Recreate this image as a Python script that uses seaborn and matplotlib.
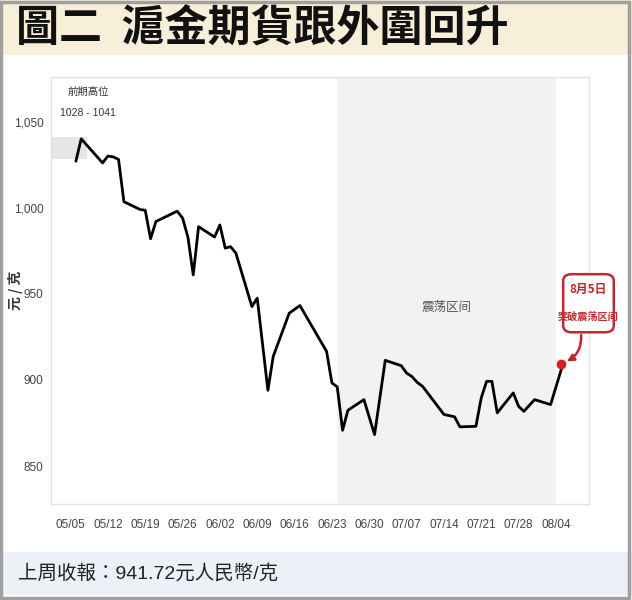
from matplotlib import pyplot as plt
import matplotlib.dates as mdates
from matplotlib.patches import FancyBboxPatch
import pandas as pd
import seaborn as sns

# data
dates = ['2025-05-06', '2025-05-07', '2025-05-11', '2025-05-12', '2025-05-13', '2025-05-14',
         '2025-05-15', '2025-05-18', '2025-05-19', '2025-05-20', '2025-05-21', '2025-05-25',
         '2025-05-26', '2025-05-27', '2025-05-28', '2025-05-29', '2025-06-01', '2025-06-02',
         '2025-06-03', '2025-06-04', '2025-06-05', '2025-06-08', '2025-06-09', '2025-06-11',
         '2025-06-12', '2025-06-15', '2025-06-17', '2025-06-22', '2025-06-23', '2025-06-24',
         '2025-06-25', '2025-06-26', '2025-06-29', '2025-07-01', '2025-07-03', '2025-07-06',
         '2025-07-07', '2025-07-08', '2025-07-09', '2025-07-10', '2025-07-14', '2025-07-16',
         '2025-07-17', '2025-07-20', '2025-07-21', '2025-07-22', '2025-07-23', '2025-07-24',
         '2025-07-27', '2025-07-28', '2025-07-29', '2025-07-31', '2025-08-03', '2025-08-05']
prices = [1027, 1040, 1026, 1030, 1029.5, 1028,
          1003.5, 999, 998.5, 982, 992, 998,
          994, 983, 961, 989, 983, 990,
          976.5, 977.4, 973.6, 942.6, 947.5, 894,
          913.7, 938.8, 943.2, 916.6, 898.3, 896,
          870.8, 882.4, 888.6, 868.3, 911.4, 908.3,
          904, 902, 898.6, 896.3, 880, 878.6,
          872.8, 873.1, 889.6, 899.2, 899.2, 880.9,
          892.5, 884.7, 881.8, 888.6, 885.7, 906]
tick_dates = ['2025-05-05', '2025-05-12', '2025-05-19', '2025-05-26', '2025-06-02', '2025-06-09',
              '2025-06-16', '2025-06-23', '2025-06-30', '2025-07-07', '2025-07-14', '2025-07-21',
              '2025-07-28', '2025-08-04']
y_ticks = [850, 900, 950, 1000, 1050]
range_start, range_end = '2025-06-24', '2025-08-04'
prev_high = [1028, 1041]
last_close = 941.72

df = pd.DataFrame({'date': pd.to_datetime(dates), 'price': prices})

sns.set_style('white')
plt.rcParams['font.family'] = ['Liberation Sans', 'Noto Sans CJK TC', 'DejaVu Sans']
cjk = ['Noto Sans CJK TC', 'DejaVu Sans']

fig = plt.figure(figsize=(6.32, 6), dpi=100)
fig.patch.set_facecolor('white')

# header band and footer band
fig.patches.append(plt.Rectangle((0, 0.908), 1, 0.092, transform=fig.transFigure,
                                 facecolor='#f8efd8', edgecolor='none', zorder=0))
fig.patches.append(plt.Rectangle((0, 0.008), 1, 0.072, transform=fig.transFigure,
                                 facecolor='#ebf1f7', edgecolor='none', zorder=0))
fig.patches.append(plt.Rectangle((0.002, 0.003), 0.994, 0.994, transform=fig.transFigure,
                                 facecolor='none', edgecolor='#a0a0a0', linewidth=2.5, zorder=5))
fig.text(0.026, 0.953, '圖二  滬金期貨跟外圍回升', fontsize=31, fontweight='heavy',
         family=cjk, va='center', ha='left', color='#111111')
fig.text(0.028, 0.044, f'上周收報：{last_close}元人民幣/克', fontsize=14,
         family=['Liberation Sans', 'Noto Sans CJK TC'], va='center', ha='left', color='#222222')

ax = fig.add_axes([0.080, 0.160, 0.852, 0.712])

x0, x1 = pd.Timestamp('2025-05-01 06:00'), pd.Timestamp('2025-08-10 05:00')
ax.axvspan(pd.Timestamp(range_start), pd.Timestamp(range_end), color='#f2f2f2', zorder=0, lw=0)
ax.fill_between([x0, pd.Timestamp('2025-05-08')], prev_high[0], prev_high[1],
                color='#e6e6e6', lw=0, zorder=0)

sns.lineplot(data=df, x='date', y='price', ax=ax, color='black', linewidth=2.0, zorder=3)
ax.plot(df['date'].iloc[-1], 909, 'o', color='#d42020', markersize=6, zorder=4, clip_on=False)

ax.set_xlim(x0, x1)
ax.set_ylim(828, 1076)
ax.set_yticks(y_ticks)
ax.set_yticklabels([f'{v:,}' for v in y_ticks])
ax.set_xticks(pd.to_datetime(tick_dates))
ax.xaxis.set_major_formatter(mdates.DateFormatter('%m/%d'))
ax.tick_params(axis='both', length=3, color='#bbbbbb', labelsize=8.5, labelcolor='#444444')
ax.tick_params(axis='x', pad=8)
ax.tick_params(axis='y', pad=2)
ax.set_xlabel('')
ax.set_ylabel('元 / 克', family=cjk, fontsize=10, fontweight='bold', color='#333333')
ax.yaxis.set_label_coords(-0.052, 0.50)
for s in ax.spines.values():
    s.set_color('#e2e2e2')
    s.set_linewidth(1)

ax.text(pd.Timestamp('2025-05-08 06:00'), 1067, '前期高位', ha='center', va='center',
        fontsize=7.5, color='#333333', family=cjk)
ax.text(pd.Timestamp('2025-05-08 06:00'), 1055, '1028 - 1041', ha='center', va='center',
        fontsize=7.5, color='#333333')
ax.text(pd.Timestamp('2025-07-14 12:00'), 942, '震荡区间', ha='center', va='center',
        fontsize=9, color='#555555', family=cjk)

# callout for the 8/5 break-out
box = FancyBboxPatch((0.955, 0.405), 0.088, 0.13, boxstyle='round,pad=0.003,rounding_size=0.016',
                     transform=ax.transAxes, facecolor='white', edgecolor='#c0282d', linewidth=1.8,
                     zorder=5, clip_on=False)
ax.add_patch(box)
ax.text(0.999, 0.502, '8月5日', transform=ax.transAxes, ha='center', va='center', fontsize=8.5,
        fontweight='bold', color='#c0282d', family=cjk, zorder=6)
ax.text(0.999, 0.438, '突破震荡区间', transform=ax.transAxes, ha='center', va='center', fontsize=7.3,
        fontweight='bold', color='#c0282d', family=cjk, zorder=6)
ax.annotate('', xy=(df['date'].iloc[-1] + pd.Timedelta(hours=14), 910), xytext=(0.985, 0.402),
            textcoords='axes fraction',
            arrowprops=dict(arrowstyle='-|>', color='#c0282d', lw=1.8,
                            connectionstyle='arc3,rad=-0.35', mutation_scale=10), zorder=6)

plt.savefig('out.png', dpi=100)
